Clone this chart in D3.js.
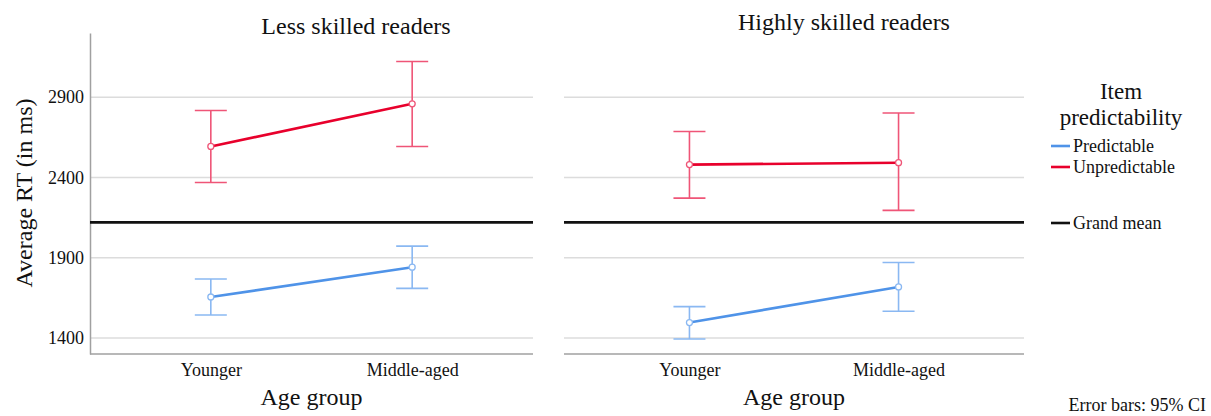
<!DOCTYPE html>
<html>
<head>
<meta charset="utf-8">
<script src="https://cdn.jsdelivr.net/npm/d3@7"></script>
<style>
  html, body { margin: 0; padding: 0; background: #fff; }
  svg { display: block; font-family: "Liberation Serif", "Times New Roman", serif; }
</style>
</head>
<body>
<svg id="chart" width="1211" height="416"></svg>
<script>
// ---- data ----
const ageGroups = ["Younger", "Middle-aged"];
const panels = ["Less skilled readers", "Highly skilled readers"];
const yTicks = [1400, 1900, 2400, 2900];
const grandMean = 2120;

// Less skilled readers
const lessPredMean = [1655, 1841];
const lessPredLow  = [1543, 1709];
const lessPredHigh = [1767, 1972];
const lessUnpMean  = [2593, 2859];
const lessUnpLow   = [2369, 2593];
const lessUnpHigh  = [2817, 3122];

// Highly skilled readers
const highPredMean = [1496, 1718];
const highPredLow  = [1393, 1566];
const highPredHigh = [1595, 1870];
const highUnpMean  = [2480, 2492];
const highUnpLow   = [2271, 2195];
const highUnpHigh  = [2686, 2802];

const seriesNames = ["Predictable", "Unpredictable"];

// ---- build ----
const panelData = [
  { title: panels[0], series: [
      { name: seriesNames[0], mean: lessPredMean, low: lessPredLow, high: lessPredHigh },
      { name: seriesNames[1], mean: lessUnpMean, low: lessUnpLow, high: lessUnpHigh } ] },
  { title: panels[1], series: [
      { name: seriesNames[0], mean: highPredMean, low: highPredLow, high: highPredHigh },
      { name: seriesNames[1], mean: highUnpMean, low: highUnpLow, high: highUnpHigh } ] }
];

const lineColor = { Predictable: "#4f93e8", Unpredictable: "#e8002c" };
const barColor  = { Predictable: "#8ab8f2", Unpredictable: "#ef5577" };

const svg = d3.select("#chart");
const y = d3.scaleLinear().domain([1300, 3300]).range([354, 33]);

const layouts = [
  { x0: 90, x1: 533, titleX: 356, titleY: 34, showY: true },
  { x0: 564, x1: 1024, titleX: 844, titleY: 30, showY: false }
];

panelData.forEach((p, i) => {
  const L = layouts[i];
  const x = d3.scalePoint().domain(ageGroups).range([L.x0, L.x1]).padding(0.6);
  const g = svg.append("g");

  // gridlines
  g.selectAll(".grid").data(yTicks).enter().append("line")
    .attr("x1", L.x0).attr("x2", L.x1)
    .attr("y1", d => y(d)).attr("y2", d => y(d))
    .attr("stroke", "#dcdcdc").attr("stroke-width", 1.5);

  // y axis
  if (L.showY) {
    const ya = d3.axisLeft(y).tickValues(yTicks).tickSize(0).tickPadding(6).tickFormat(d3.format("d"));
    const ag = g.append("g").attr("transform", `translate(${L.x0},0)`).call(ya);
    ag.select(".domain").attr("stroke", "#a0a0a0").attr("stroke-width", 1.5);
    ag.selectAll("text").attr("font-size", 18).attr("font-family", "Liberation Serif").attr("fill", "#111");
  }

  // x axis
  const xa = d3.axisBottom(x).tickSize(0).tickPadding(9);
  const xg = g.append("g").attr("transform", `translate(0,${y(1300)})`).call(xa);
  xg.select(".domain").attr("stroke", "#a0a0a0").attr("stroke-width", 1.5)
    .attr("d", `M${L.x0},0H${L.x1}`);
  xg.selectAll("text").attr("font-size", 18).attr("font-family", "Liberation Serif").attr("fill", "#111");

  // grand mean
  g.append("line").attr("x1", L.x0).attr("x2", L.x1)
    .attr("y1", y(grandMean)).attr("y2", y(grandMean))
    .attr("stroke", "#111").attr("stroke-width", 2.6);

  // series
  p.series.forEach(s => {
    const pts = ageGroups.map((a, k) => ({ a, m: s.mean[k], lo: s.low[k], hi: s.high[k] }));
    // error bars
    const eb = g.append("g").attr("stroke", barColor[s.name]).attr("stroke-width", 1.6).attr("fill", "none");
    pts.forEach(d => {
      const cx = x(d.a);
      eb.append("line").attr("x1", cx).attr("x2", cx).attr("y1", y(d.lo)).attr("y2", y(d.hi));
      eb.append("line").attr("x1", cx - 16).attr("x2", cx + 16).attr("y1", y(d.lo)).attr("y2", y(d.lo));
      eb.append("line").attr("x1", cx - 16).attr("x2", cx + 16).attr("y1", y(d.hi)).attr("y2", y(d.hi));
    });
    // mean line
    g.append("path").datum(pts)
      .attr("d", d3.line().x(d => x(d.a)).y(d => y(d.m)))
      .attr("fill", "none").attr("stroke", lineColor[s.name]).attr("stroke-width", 2.6);
    // markers
    g.selectAll(null).data(pts).enter().append("circle")
      .attr("cx", d => x(d.a)).attr("cy", d => y(d.m)).attr("r", 3)
      .attr("fill", "#fff").attr("stroke", barColor[s.name]).attr("stroke-width", 1.3);
  });

  // title
  svg.append("text").attr("x", L.titleX).attr("y", L.titleY)
    .attr("text-anchor", "middle").attr("font-size", 24).attr("fill", "#111").text(p.title);

  // x axis title
  svg.append("text").attr("x", (L.x0 + L.x1) / 2).attr("y", 405)
    .attr("text-anchor", "middle").attr("font-size", 24).attr("fill", "#111").text("Age group");
});

// y axis title
svg.append("text")
  .attr("transform", "translate(32,193) rotate(-90)")
  .attr("text-anchor", "middle").attr("font-size", 24).attr("fill", "#111")
  .text("Average RT (in ms)");

// legend
const lg = svg.append("g");
lg.append("text").attr("x", 1121).attr("y", 99).attr("text-anchor", "middle")
  .attr("font-size", 23).attr("fill", "#111").text("Item");
lg.append("text").attr("x", 1121).attr("y", 125).attr("text-anchor", "middle")
  .attr("font-size", 23).attr("fill", "#111").text("predictability");

const legendItems = [
  { label: seriesNames[0], color: lineColor.Predictable, y: 146 },
  { label: seriesNames[1], color: lineColor.Unpredictable, y: 167 },
  { label: "Grand mean", color: "#111", y: 223 }
];
legendItems.forEach(d => {
  lg.append("line").attr("x1", 1051).attr("x2", 1070).attr("y1", d.y).attr("y2", d.y)
    .attr("stroke", d.color).attr("stroke-width", 2.6);
  lg.append("text").attr("x", 1073).attr("y", d.y + 6).attr("font-size", 18)
    .attr("fill", "#111").text(d.label);
});

svg.append("text").attr("x", 1206).attr("y", 411).attr("text-anchor", "end")
  .attr("font-size", 18).attr("fill", "#111").text("Error bars: 95% CI");
</script>
</body>
</html>
